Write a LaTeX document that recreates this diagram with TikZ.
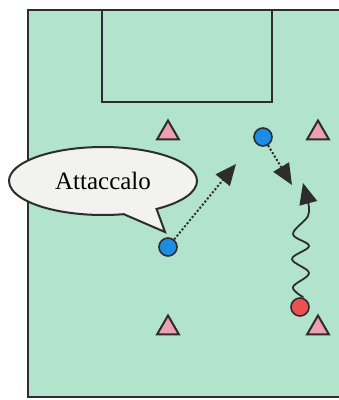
\documentclass[tikz,border=0pt]{standalone}
\usepackage{fontspec}
\setmainfont{Liberation Serif}
\usetikzlibrary{shapes.geometric,shapes.callouts,arrows.meta}
\definecolor{pitch}{RGB}{178,227,204}
\definecolor{lineclr}{RGB}{45,45,45}
\definecolor{conefill}{RGB}{236,160,176}
\definecolor{bluep}{RGB}{28,140,228}
\definecolor{redp}{RGB}{236,80,80}
\definecolor{bubble}{RGB}{242,242,240}
\tikzset{
  fieldline/.style={draw=lineclr, line width=2pt},
  cone/.style={regular polygon, regular polygon sides=3, draw=lineclr, line width=2pt,
    fill=conefill, minimum size=25pt, inner sep=0pt},
  player/.style={circle, draw=lineclr, line width=1.6pt, minimum size=18pt, inner sep=0pt},
  bigtip/.style={-{Triangle[length=21pt,width=18pt]}},
  runpass/.style={bigtip, draw=lineclr, line width=2pt, dotted},
  dribble/.style={draw=lineclr, line width=1.8pt, line cap=round},
}
\begin{document}
\begin{tikzpicture}[x=1pt,y=-1pt]
  \useasboundingbox (0,0) rectangle (339,400);
  % pitch surface and lines
  \fill[white] (0,0) rectangle (339,400);
  \fill[pitch] (28,10) rectangle (339,397);
  \draw[fieldline] (345,10) -- (28,10) -- (28,397) -- (345,397);
  \draw[fieldline] (102,10) -- (102,102) -- (272,102) -- (272,10);
  % cones
  \node[cone] (c1) at (168,133) {};
  \node[cone] (c2) at (318,133) {};
  \node[cone] (c3) at (168,328) {};
  \node[cone] (c4) at (318,328) {};
  % players
  \node[player, fill=bluep] (b1) at (263,137) {};
  \node[player, fill=bluep] (b2) at (168,247) {};
  \node[player, fill=redp] (r1) at (300,307) {};
  % movement end points
  \coordinate (t1) at (236,164);
  \coordinate (t2) at (292,185);
  \coordinate (t3) at (303,183);
  \draw[runpass] (b2) -- (t1);
  \draw[runpass] (b1) -- (t2);
  % dribble: wiggling run that ends in an arrow
  \draw[dribble] plot[smooth, tension=0.6] coordinates
    {(303,297) (293,287) (309,273) (292,259) (309,246) (293,234) (308,216) (308,202)};
  \draw[draw=lineclr, line width=1.8pt, bigtip] (308,202) -- (t3);
  % speech bubble
  \node[ellipse callout, draw=lineclr, line width=2pt, fill=bubble,
    minimum width=188pt, minimum height=68pt, inner sep=0pt,
    callout pointer arc=22,
    callout absolute pointer={(165,232)}, font=\fontsize{25}{29}\selectfont]
    (say) at (103,181) {Attaccalo};
\end{tikzpicture}
\end{document}
